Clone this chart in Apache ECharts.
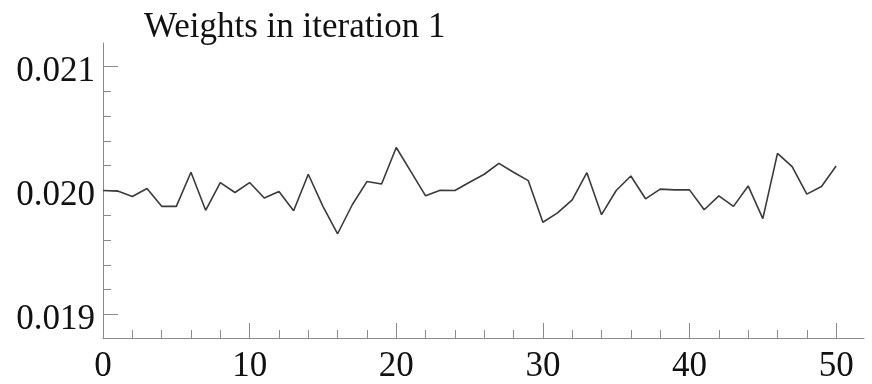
<!DOCTYPE html>
<html>
<head>
<meta charset="utf-8">
<script src="https://cdn.jsdelivr.net/npm/echarts@6/dist/echarts.min.js"></script>
<style>
  html, body { margin: 0; padding: 0; background: #ffffff; }
  #chart { width: 872px; height: 384px; }
</style>
</head>
<body>
<div id="chart"></div>
<script>
// ---- data ----
const titleText = 'Weights in iteration 1';
const iterations = [0,1,2,3,4,5,6,7,8,9,10,11,12,13,14,15,16,17,18,19,20,21,22,23,24,25,26,27,28,29,30,31,32,33,34,35,36,37,38,39,40,41,42,43,44,45,46,47,48,49,50];
const weights = [
  0.020000, 0.019995, 0.019952, 0.020016, 0.019872, 0.019872, 0.020147, 0.019840, 0.020064, 0.019984,
  0.020064, 0.019939, 0.019992, 0.019837, 0.020131, 0.019872, 0.019651, 0.019885, 0.020072, 0.020053,
  0.020347, 0.020152, 0.019957, 0.020002, 0.020000, 0.020067, 0.020131, 0.020219, 0.020147, 0.020080,
  0.019744, 0.019819, 0.019925, 0.020144, 0.019805, 0.020000, 0.020117, 0.019933, 0.020011, 0.020005,
  0.020005, 0.019845, 0.019957, 0.019872, 0.020037, 0.019773, 0.020299, 0.020192, 0.019971, 0.020032,
  0.020197
];
const xTickLabels = [0, 10, 20, 30, 40, 50];
const xMinorTicks = [2,4,6,8,12,14,16,18,22,24,26,28,32,34,36,38,42,44,46,48];
const yTickLabels = [0.019, 0.020, 0.021];
const yMinorTicks = [0.0192, 0.0194, 0.0196, 0.0198, 0.0202, 0.0204, 0.0206, 0.0208];
const xRange = [0, 51.9];
const yRange = [0.01881, 0.02119];

// ---- chart ----
const axisColor = '#8a8a8a';
const font = '"Liberation Serif", "Times New Roman", serif';
const chart = echarts.init(document.getElementById('chart'), null, { renderer: 'canvas' });

function baseX(extra) {
  return Object.assign({
    type: 'value', position: 'bottom', min: xRange[0], max: xRange[1],
    axisLine: { show: true, onZero: false, lineStyle: { color: axisColor, width: 1 } },
    splitLine: { show: false }
  }, extra);
}
function baseY(extra) {
  return Object.assign({
    type: 'value', position: 'left', min: yRange[0], max: yRange[1],
    axisLine: { show: true, onZero: false, lineStyle: { color: axisColor, width: 1 } },
    splitLine: { show: false }
  }, extra);
}

chart.setOption({
  backgroundColor: '#ffffff',
  animation: false,
  title: {
    text: titleText, left: 139, top: 5,
    textStyle: { fontFamily: font, fontSize: 35, fontWeight: 'normal', color: '#111' }
  },
  grid: { left: 103, right: 8, top: 43, bottom: 45, containLabel: false },
  xAxis: [
    baseX({
      axisTick: { show: true, inside: true, length: 15, customValues: xTickLabels, lineStyle: { color: axisColor } },
      axisLabel: { show: true, customValues: xTickLabels, margin: 11, fontFamily: font, fontSize: 35, color: '#111' }
    }),
    baseX({
      axisLine: { show: false },
      axisTick: { show: true, inside: true, length: 8, customValues: xMinorTicks, lineStyle: { color: axisColor } },
      axisLabel: { show: false }
    })
  ],
  yAxis: [
    baseY({
      axisTick: { show: true, inside: true, length: 15, customValues: yTickLabels, lineStyle: { color: axisColor } },
      axisLabel: {
        show: true, customValues: yTickLabels, margin: 8,
        formatter: v => '{v|' + Number(v).toFixed(3) + '}',
        rich: { v: { fontFamily: font, fontSize: 35, color: '#111', padding: [11, 0, 0, 0] } }
      }
    }),
    baseY({
      axisLine: { show: false },
      axisTick: { show: true, inside: true, length: 8, customValues: yMinorTicks, lineStyle: { color: axisColor } },
      axisLabel: { show: false }
    })
  ],
  series: [{
    type: 'line',
    xAxisIndex: 0, yAxisIndex: 0,
    data: iterations.map((x, i) => [x, weights[i]]),
    showSymbol: false, symbol: 'none',
    lineStyle: { color: '#3a3a3a', width: 1.6 },
    clip: false
  }]
});
</script>
</body>
</html>
